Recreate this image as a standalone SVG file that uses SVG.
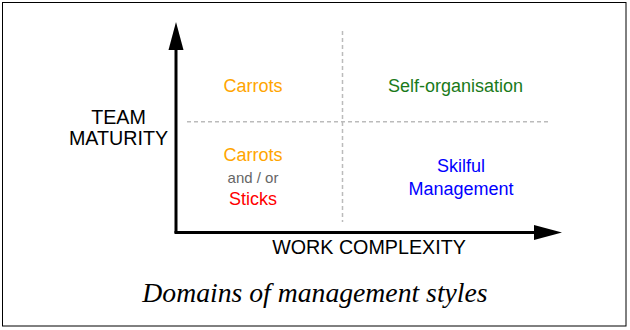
<svg xmlns="http://www.w3.org/2000/svg" width="630" height="330" viewBox="0 0 630 330">
<style>
.q{font-family:"Liberation Sans",Arial,sans-serif;font-size:18px;text-anchor:middle}
.ax{font-family:"Liberation Sans",Arial,sans-serif;font-size:19.7px;text-anchor:middle;fill:#000}
.grid{stroke:#bbbbbb;stroke-width:1.5;stroke-dasharray:4 3;fill:none}
.axis{stroke:#000;stroke-width:3;fill:none}
.head{fill:#000}
</style>
<rect x="2.5" y="2.5" width="623.5" height="323.5" fill="#fff" stroke="#000" stroke-width="1"/>
<g id="connectors">
<line class="grid" x1="342.5" y1="31" x2="342.5" y2="222"/>
<line class="grid" x1="187" y1="121.8" x2="549" y2="121.8"/>
<line class="axis" x1="176" y1="233" x2="176" y2="50"/>
<polygon class="head" points="176,22 168.5,50 183.5,50"/>
<line class="axis" x1="174.5" y1="232.5" x2="534" y2="232.5"/>
<polygon class="head" points="562,232.5 534,225 534,240"/>
</g>
<g id="y-label"><text class="ax" x="118.5" y="124">TEAM</text><text class="ax" x="118.5" y="144.5">MATURITY</text></g>
<g id="x-label"><text class="ax" x="369" y="253.5">WORK COMPLEXITY</text></g>
<g id="q-carrots"><text class="q" x="253" y="92" fill="#ffa500">Carrots</text></g>
<g id="q-self"><text class="q" x="455.5" y="92" fill="#1a7a1a">Self-organisation</text></g>
<g id="q-carrots-sticks">
<text class="q" x="253" y="160.5" fill="#ffa500">Carrots</text>
<text class="q" x="253" y="183" fill="#666666" style="font-size:15px">and / or</text>
<text class="q" x="253" y="205" fill="#ff0000">Sticks</text>
</g>
<g id="q-skilful">
<text class="q" x="461" y="172" fill="#0000ff">Skilful</text>
<text class="q" x="461" y="194.5" fill="#0000ff">Management</text>
</g>
<g id="caption"><text x="315" y="301.5" font-family="'Liberation Serif','Times New Roman',serif" font-style="italic" font-size="27.7" text-anchor="middle" fill="#000">Domains of management styles</text></g>
</svg>
